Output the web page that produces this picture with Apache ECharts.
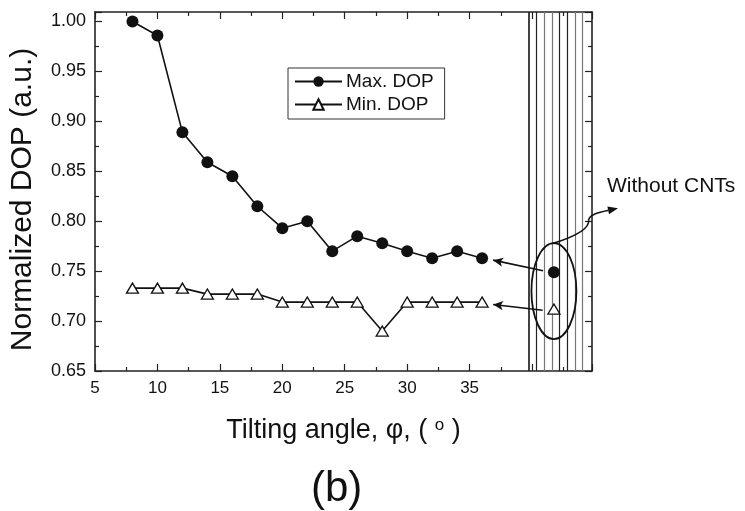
<!DOCTYPE html>
<html>
<head>
<meta charset="utf-8">
<script src="https://cdn.jsdelivr.net/npm/echarts@6/dist/echarts.min.js"></script>
<style>
html,body{margin:0;padding:0;background:#fff;}
#c{width:745px;height:511px;}
</style>
</head>
<body>
<div id="c"></div>
<script>
// ---- data ----
const angles = [8, 10, 12, 14, 16, 18, 20, 22, 24, 26, 28, 30, 32, 34, 36];
const maxDOP = [1.000, 0.986, 0.889, 0.859, 0.845, 0.815, 0.793, 0.800, 0.770, 0.785, 0.778, 0.770, 0.763, 0.770, 0.763];
const minDOP = [0.733, 0.733, 0.733, 0.727, 0.727, 0.727, 0.719, 0.719, 0.719, 0.719, 0.690, 0.719, 0.719, 0.719, 0.719];
const refAngle = [41.75];          // "Without CNTs" reference column
const refMax = [0.749];
const refMin = [0.712];
const xTickLabels = [5, 10, 15, 20, 25, 30, 35];
const yTickLabels = ['0.65', '0.70', '0.75', '0.80', '0.85', '0.90', '0.95', '1.00'];
const seriesNames = ['Max. DOP', 'Min. DOP'];
const annotationText = 'Without CNTs';

const FONT = '"Liberation Sans", Arial, Helvetica, sans-serif';
const INK = '#111';

const chart = echarts.init(document.getElementById('c'), null, {renderer: 'canvas'});

const X_MIN = 5, X_MAX = 44.8, Y_MIN = 0.65, Y_MAX = 1.0095;
const HATCH_START = 39.75;

// hatch lines (decoration of the "without CNTs" column)
const hatch = [];
for (let i = 0; i < 8; i++) {
  const x = HATCH_START + i * 0.615;
  const dark = (i === 0 || i === 1 || i === 4 || i === 5);
  hatch.push({xAxis: x, lineStyle: {color: dark ? '#222' : '#777', width: i === 0 ? 1.7 : 1.2, type: 'solid'}});
}

const pairs = (xs, ys) => xs.map((x, i) => [x, ys[i]]);

const axisCommonX = {
  type: 'value', min: X_MIN, max: X_MAX, interval: 5,
  axisLine: {show: true, onZero: false, lineStyle: {color: '#222', width: 1.6}},
  axisTick: {show: true, inside: true, length: 7, lineStyle: {color: '#222', width: 1.2}},
  minorTick: {show: true, splitNumber: 2, length: 4, lineStyle: {color: '#222', width: 1.2}},
  splitLine: {show: false}, minorSplitLine: {show: false}
};
const axisCommonY = {
  type: 'value', min: Y_MIN, max: Y_MAX, interval: 0.05,
  axisLine: {show: true, onZero: false, lineStyle: {color: '#222', width: 1.6}},
  axisTick: {show: true, inside: true, length: 7, lineStyle: {color: '#222', width: 1.2}},
  minorTick: {show: true, splitNumber: 2, length: 4, lineStyle: {color: '#222', width: 1.2}},
  splitLine: {show: false}, minorSplitLine: {show: false}
};

const option = {
  backgroundColor: '#fff',
  animation: false,
  textStyle: {fontFamily: FONT, color: INK},
  grid: {left: 95, right: 153, top: 12, bottom: 140, containLabel: false},
  legend: {
    data: seriesNames,
    orient: 'vertical', left: 288, top: 68,
    itemWidth: 47, itemHeight: 13, itemGap: 4,
    padding: [4, 11, 5, 6],
    borderColor: '#333', borderWidth: 1,
    textStyle: {fontSize: 19, fontFamily: FONT, color: INK, padding: [0, 0, 0, -1]},
    selectedMode: false
  },
  xAxis: [
    Object.assign({}, axisCommonX, {
      position: 'bottom',
      name: '{t|Tilting angle, φ, ( }{s|o}{t| )}',
      nameLocation: 'middle', nameGap: 46,
      nameTextStyle: {rich: {
        t: {fontSize: 27, fontFamily: FONT, color: INK},
        s: {fontSize: 17, fontFamily: FONT, color: INK, verticalAlign: 'top', padding: [0, 0, 10, 0]}
      }},
      axisLabel: {
        show: true, fontSize: 17, fontFamily: FONT, color: INK, margin: 9,
        formatter: v => xTickLabels.indexOf(Math.round(v * 1000) / 1000) >= 0 ? String(v) : ''
      }
    }),
    Object.assign({}, axisCommonX, {position: 'top', axisLabel: {show: false}})
  ],
  yAxis: [
    Object.assign({}, axisCommonY, {
      position: 'left',
      name: 'Normalized DOP (a.u.)',
      nameLocation: 'middle', nameGap: 57,
      nameTextStyle: {fontSize: 30, fontFamily: FONT, color: INK, padding: [0, 16, 0, 0]},
      axisLabel: {
        show: true, fontSize: 18, fontFamily: FONT, color: INK, margin: 9,
        formatter: v => {
          const s = v.toFixed(2);
          return (yTickLabels.indexOf(s) >= 0 && Math.abs(v - parseFloat(s)) < 1e-6) ? s : '';
        }
      }
    }),
    Object.assign({}, axisCommonY, {position: 'right', axisLabel: {show: false}})
  ],
  series: [
    {
      name: seriesNames[0], type: 'line', xAxisIndex: 0, yAxisIndex: 0,
      data: pairs(angles, maxDOP),
      symbol: 'circle', symbolSize: 12,
      lineStyle: {color: INK, width: 1.6},
      itemStyle: {color: INK, borderColor: INK, borderWidth: 0},
      markLine: {
        silent: true, symbol: ['none', 'none'], label: {show: false},
        data: hatch
      },
      z: 5
    },
    {
      name: seriesNames[1], type: 'line', xAxisIndex: 0, yAxisIndex: 0,
      data: pairs(angles, minDOP),
      symbol: 'triangle', symbolSize: [12, 10],
      lineStyle: {color: INK, width: 1.6},
      itemStyle: {color: '#fff', borderColor: INK, borderWidth: 1.3},
      markLine: {
        silent: true, symbol: ['arrow', 'none'], symbolSize: [7, 10],
        label: {show: false},
        lineStyle: {color: INK, width: 1.6, type: 'solid'},
        data: [
          [{coord: [36.88, 0.761]}, {coord: [40.88, 0.7503]}],
          [{coord: [36.88, 0.7166]}, {coord: [40.85, 0.7109]}]
        ]
      },
      z: 5
    },
    {
      name: 'refMax', type: 'scatter', data: pairs(refAngle, refMax),
      symbol: 'circle', symbolSize: 12, itemStyle: {color: INK, opacity: 1}, z: 8
    },
    {
      name: 'refMin', type: 'scatter', data: pairs(refAngle, refMin),
      symbol: 'triangle', symbolSize: [12, 10],
      itemStyle: {color: '#fff', borderColor: INK, borderWidth: 1.3, opacity: 1}, z: 8
    }
  ]
};
chart.setOption(option);

// annotation: ellipse around the reference points + curved arrow + label
const P = (x, y) => chart.convertToPixel({gridIndex: 0}, [x, y]);
const cx = refAngle[0], cyv = (refMax[0] + refMin[0]) / 2 - 0.0005;
const c = P(cx, cyv);
const rPx = P(cx + 1.8, cyv);
const tPx = P(cx, cyv + 0.048);
const rx = Math.abs(rPx[0] - c[0]);
const ry = Math.abs(c[1] - tPx[1]);

const s0 = P(41.68, 0.7778);   // top of ellipse
const c1 = P(43.57, 0.7851);
const c2 = P(44.61, 0.7931);
const m1 = P(44.53, 0.8011);
const c3 = P(44.61, 0.8071);
const c4 = P(45.42, 0.8091);
const e0 = P(46.88, 0.8129);   // arrow tip

const ang = Math.atan2(e0[1] - c4[1], e0[0] - c4[0]);
const ah = 10, aw = 4;
const bx = e0[0] - ah * Math.cos(ang), by = e0[1] - ah * Math.sin(ang);
const arrowHead = [
  [e0[0], e0[1]],
  [bx + aw * Math.sin(ang), by - aw * Math.cos(ang)],
  [bx - aw * Math.sin(ang), by + aw * Math.cos(ang)]
];

chart.setOption({
  graphic: [
    {type: 'ellipse', shape: {cx: c[0], cy: c[1], rx: rx, ry: ry},
     style: {fill: 'none', stroke: INK, lineWidth: 1.8}, z: 20},
    {type: 'bezierCurve', shape: {x1: s0[0], y1: s0[1], cpx1: c1[0], cpy1: c1[1], cpx2: c2[0], cpy2: c2[1], x2: m1[0], y2: m1[1]},
     style: {fill: 'none', stroke: INK, lineWidth: 1.6}, z: 20},
    {type: 'bezierCurve', shape: {x1: m1[0], y1: m1[1], cpx1: c3[0], cpy1: c3[1], cpx2: c4[0], cpy2: c4[1], x2: bx, y2: by},
     style: {fill: 'none', stroke: INK, lineWidth: 1.6}, z: 20},
    {type: 'polygon', shape: {points: arrowHead}, style: {fill: INK}, z: 20},
    {type: 'text', left: 607, top: 176,
     style: {text: annotationText, fontSize: 21, fontFamily: FONT, fill: INK}, z: 20},
    {type: 'text', left: 311, top: 468,
     style: {text: '(b)', fontSize: 42, fontFamily: FONT, fill: INK}, z: 20}
  ]
});
</script>
</body>
</html>
